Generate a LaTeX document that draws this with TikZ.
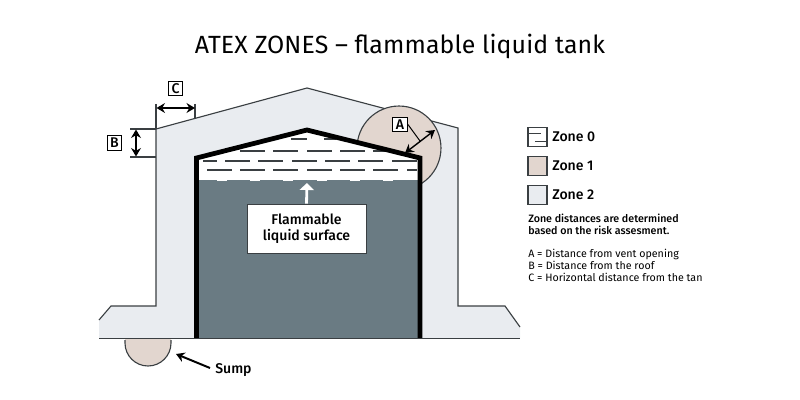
\documentclass[tikz,border=0pt]{standalone}
\usepackage{fontspec}
\setmainfont{Fira Sans}[BoldFont={Fira Sans Medium}]
\usetikzlibrary{arrows.meta}

\definecolor{zoneone}{HTML}{E2D6CF}
\definecolor{zonetwo}{HTML}{E9ECF0}
\definecolor{liquid}{HTML}{6A7B83}
\definecolor{outline}{HTML}{3A3F42}

\tikzset{
  letterbox/.style={draw=black,fill=white,line width=0.8pt,inner sep=0pt,minimum width=10.5pt,minimum height=10.5pt,font=\fontsize{10}{10}\selectfont\bfseries},
  legendbox/.style={draw=outline,line width=0.8pt,inner sep=0pt,minimum width=13.5pt,minimum height=13pt},
  legendtext/.style={anchor=west,inner sep=0pt,font=\fontsize{10}{11}\selectfont\bfseries},
  wall/.style={draw=outline,line width=0.8pt},
  tick/.style={draw=outline,line width=0.8pt},
  surface/.style={draw=outline,line width=0.8pt},
  wave/.style={draw=white,line width=1.2pt},
}

\begin{document}
\begin{tikzpicture}[x=0.025cm,y=-0.025cm]
      \useasboundingbox (0,0) rectangle (800,400);

      \node[inner sep=0pt,font=\fontsize{17.7}{20}\selectfont\addfontfeature{LetterSpace=0.5}] (title) at (400,46) {ATEX ZONES – flammable liquid tank};

      \fill[zonetwo] (99,338) -- (99,320) -- (111,306) -- (156,306) -- (156,129) -- (307,88) -- (458,128) -- (458,306) -- (505,306) -- (520,327) -- (520,338) -- cycle;
      \draw[wall] (99,320) -- (111,306) -- (156,306) -- (156,129) -- (307,88) -- (458,128) -- (458,306) -- (505,306) -- (520,327);

      \node[circle,draw=outline,fill=zoneone,line width=0.8pt,inner sep=0pt,minimum size=59.7pt] (vent) at (399,148) {};

      \fill[white] (196,158) -- (307,130) -- (420,158) -- (420,338) -- (196,338) -- cycle;
      \fill[liquid] (196,180) rectangle (420,338);
      \foreach \x in {240,273,307,340,373}
        \draw[surface] (\x,151) -- ++(25,0);
      \draw[surface] (291,139) -- (307,139);
      \draw[surface] (324,139) -- (336,139);
      \draw[surface] (203,161) -- (217,161);
      \foreach \x in {225,258,292,325,358,392}
        \draw[surface] (\x,161) -- ++(25,0);
      \foreach \x in {207,240,273,307,340,373}
        \draw[surface] (\x,170) -- ++(25,0);
      \draw[surface] (407,170) -- (417,170);
      \foreach \x in {217,250,283,317,350,383}
        \draw[wave] (\x,180) -- ++(10,0);
      \draw[black,line width=3.4pt,miter limit=10] (196.5,338) -- (196.5,158) -- (307,130) -- (420,158) -- (420,338);

      \fill[zoneone] (125,339) -- (125,343) arc[start angle=180,end angle=0,radius=23] -- (171,339) -- cycle;
      \draw[outline,line width=0.8pt] (125,340) -- (125,343) arc[start angle=180,end angle=0,radius=23] -- (171,340);
      \draw[outline,line width=1.1pt] (99,338.5) -- (520,338.5);

      \draw[tick] (156,104) -- (156,129);
      \draw[tick] (195,104) -- (195,118);
      \draw[tick] (130,129) -- (156,129);
      \draw[tick] (130,157) -- (156,157);

      \node[letterbox] (boxA) at (400,124.5) {A};
      \node[letterbox] (boxB) at (114.5,143) {B};
      \node[letterbox] (boxC) at (175.5,88.5) {C};

      \coordinate (ventNear) at (405,153);
      \coordinate (ventFar) at (435,130);
      \coordinate (ventMid) at (420,141);
      \coordinate (roofTop) at (136,129.5);
      \coordinate (roofLow) at (136,156.5);
      \coordinate (tankSide) at (195,108);
      \coordinate (wallSide) at (156.5,108);
      \coordinate (surfaceTip) at (307,183);
      \coordinate (sumpTip) at (176,354);
      \coordinate (sumpTail) at (210,368);

      \node[draw=outline,fill=white,line width=0.5pt,inner sep=0pt,minimum width=84.6pt,minimum height=34.8pt,align=center,font=\fontsize{10}{11.5}\selectfont\bfseries] (label) at (306.5,228.5) {Flammable\\liquid surface};
      \node[anchor=west,inner sep=0pt,font=\fontsize{10}{11}\selectfont\bfseries] (sump) at (215,370) {Sump};

      \begin{scope}[>={Stealth[black,length=6pt,width=7pt]},
          every edge/.style={draw=black,line width=1pt}]
        \path [<->] (wallSide) edge (tankSide);
        \path [<->] (roofTop) edge (roofLow);
        \path [<->] (ventNear) edge (ventFar);
        \path [->] (sumpTail) edge[line width=1.4pt] (sumpTip);
      \end{scope}
      \draw[black,line width=0.7pt] (boxA.east) -- (ventMid);
      \draw[-{Triangle[length=5pt,width=10pt]},white,line width=2pt] (label.north) -- (surfaceTip);

      \node[legendbox,fill=white] (zero) at (537.5,137) {};
      \draw[outline,line width=0.7pt] (zero.west |- 0,133) -- (541,133);
      \draw[outline,line width=0.7pt] (535,141) -- (zero.east |- 0,141);
      \node[legendbox,fill=zoneone] (one) at (537.5,166) {};
      \node[legendbox,fill=zonetwo] (two) at (537.5,195) {};
      \node[legendtext] (zerotext) at (552,137) {Zone 0};
      \node[legendtext] (onetext) at (552,166) {Zone 1};
      \node[legendtext] (twotext) at (552,195) {Zone 2};

      \node[anchor=north west,inner sep=0pt,align=left,font=\fontsize{7.6}{8.6}\selectfont\bfseries] (note) at (528,214) {Zone distances are determined\\based on the risk assesment.};
      \node[anchor=north west,inner sep=0pt,align=left,font=\fontsize{7.6}{8.6}\selectfont] (key) at (528,249) {A = Distance from vent opening\\B = Distance from the roof\\C = Horizontal distance from the tan};
\end{tikzpicture}
\end{document}
